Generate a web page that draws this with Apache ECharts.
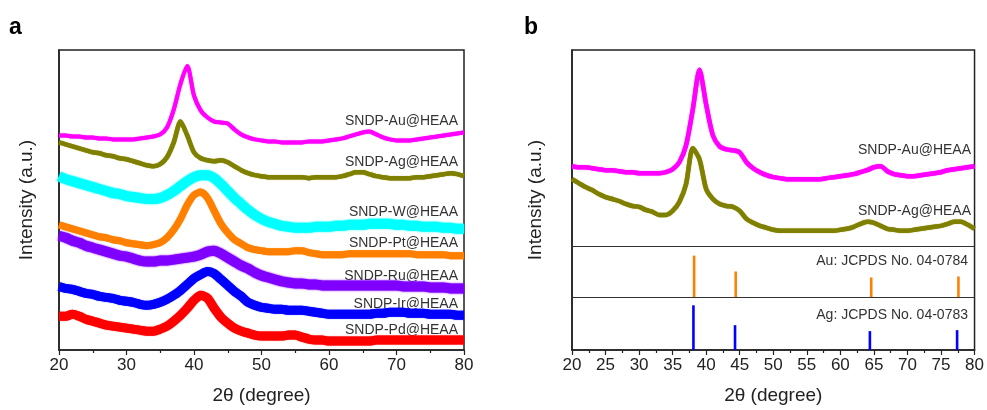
<!DOCTYPE html>
<html>
<head>
<meta charset="utf-8">
<script src="https://cdn.jsdelivr.net/npm/echarts@6/dist/echarts.min.js"></script>
<style>
  html, body { margin: 0; padding: 0; background: #fff; }
  #chart { width: 987px; height: 410px; }
</style>
</head>
<body>
<div id="chart"></div>
<script>
// 2θ sampling grid (degrees)
const twoTheta = [20, 21, 22, 23, 24, 25, 26, 27, 28, 29, 30, 31, 32, 33, 34, 35, 36, 37, 38, 39, 40,
  41, 42, 43, 44, 45, 46, 47, 48, 49, 50, 51, 52, 53, 54, 55, 56, 57, 58, 59, 60,
  61, 62, 63, 64, 65, 66, 67, 68, 69, 70, 71, 72, 73, 74, 75, 76, 77, 78, 79, 80];

// panel a, offset intensities (a.u.)
const auA = [216, 216, 215, 215, 214, 214, 213, 213, 212, 212, 212, 212, 213, 214, 215, 217, 224, 242, 268, 286, 256,
  241, 234, 230, 229, 228, 222, 217, 214, 212, 211, 210, 210, 209, 209, 209, 209, 210, 210, 210, 211,
  212, 213, 215, 217, 219, 220, 217, 214, 212, 211, 211, 211, 212, 213, 214, 215, 216, 217, 218, 219];
const agA = [209, 207, 205, 203, 201, 199, 198, 196, 195, 193, 192, 190, 188, 186, 185, 187, 194, 209, 230, 216, 199,
  193, 191, 190, 191, 189, 185, 181, 178, 176, 175, 174, 174, 174, 174, 174, 174, 173, 174, 174, 174,
  174, 175, 177, 179, 179, 177, 175, 174, 173, 173, 173, 173, 174, 174, 175, 176, 177, 178, 177, 175];
const wA = [175, 172, 170, 168, 166, 164, 162, 160, 158, 157, 155, 154, 153, 152, 152, 153, 156, 160, 165, 170, 174,
  176, 176, 173, 167, 160, 153, 147, 141, 136, 132, 129, 127, 125, 124, 123, 123, 123, 124, 124, 124,
  125, 125, 126, 126, 126, 127, 127, 127, 127, 126, 126, 125, 125, 124, 124, 124, 123, 123, 122, 122];
const ptA = [126, 124, 122, 120, 118, 116, 114, 113, 111, 110, 108, 107, 106, 105, 106, 108, 113, 121, 132, 146, 156,
  159, 153, 140, 127, 118, 111, 107, 103, 101, 100, 99, 99, 99, 99, 100, 100, 98, 97, 96, 96,
  96, 96, 97, 97, 97, 97, 97, 97, 97, 97, 97, 97, 96, 96, 96, 96, 96, 95, 95, 95];
const ruA = [115, 113, 110, 108, 105, 103, 101, 99, 97, 95, 94, 92, 90, 89, 89, 90, 90, 91, 92, 93, 94,
  96, 99, 100, 97, 93, 89, 85, 82, 78, 75, 73, 71, 69, 68, 67, 67, 66, 66, 65, 65,
  65, 65, 65, 65, 65, 65, 65, 65, 65, 65, 64, 64, 64, 64, 63, 63, 63, 62, 62, 62];
const irA = [64, 62, 61, 59, 57, 56, 54, 53, 52, 50, 49, 48, 46, 45, 46, 48, 51, 55, 60, 66, 72,
  76, 79, 77, 71, 65, 59, 54, 48, 45, 43, 42, 41, 41, 40, 40, 40, 39, 38, 37, 36,
  36, 36, 36, 36, 36, 36, 37, 37, 38, 38, 38, 37, 37, 37, 36, 36, 36, 36, 35, 35];
const pdA = [34, 34, 36, 34, 31, 29, 27, 25, 24, 23, 22, 21, 20, 19, 19, 21, 24, 29, 35, 42, 50,
  55, 52, 42, 33, 27, 22, 19, 17, 15, 14, 14, 14, 14, 15, 15, 13, 11, 10, 10, 9,
  9, 9, 9, 9, 9, 9, 10, 10, 10, 10, 10, 10, 10, 10, 10, 10, 10, 10, 10, 10];

// panel b
const auB = [185, 184, 184, 183, 182, 181, 181, 180, 179, 179, 178, 178, 178, 178, 179, 182, 189, 206, 242, 282, 247,
  216, 205, 202, 201, 199, 189, 183, 179, 176, 174, 173, 172, 172, 172, 172, 172, 172, 173, 174, 175,
  176, 177, 179, 181, 184, 185, 180, 177, 176, 175, 175, 176, 177, 178, 179, 181, 182, 183, 184, 185];
const agB = [172, 168, 164, 161, 157, 154, 152, 150, 147, 145, 144, 141, 139, 136, 136, 140, 149, 167, 203, 192, 162,
  152, 147, 145, 144, 140, 132, 128, 125, 123, 121, 120, 120, 120, 120, 120, 120, 120, 120, 120, 121,
  122, 124, 127, 129, 128, 125, 122, 121, 120, 120, 121, 122, 123, 124, 125, 127, 129, 129, 126, 122];

// reference patterns: position, stick top, stick base
const auRefPos = [38.2, 44.4, 64.6, 77.6];
const auRefTop = [95, 79, 73, 74];
const auRefBase = 53;
const agRefPos = [38.1, 44.3, 64.4, 77.4];
const agRefTop = [45, 25, 19, 20];
const agRefBase = 0;
const dividers = [104, 53];

const namesA = ['SNDP-Au@HEAA', 'SNDP-Ag@HEAA', 'SNDP-W@HEAA', 'SNDP-Pt@HEAA', 'SNDP-Ru@HEAA', 'SNDP-Ir@HEAA', 'SNDP-Pd@HEAA'];
const namesB = ['SNDP-Au@HEAA', 'SNDP-Ag@HEAA', 'Au: JCPDS No. 04-0784', 'Ag: JCPDS No. 04-0783'];

const FONT = 'Arial, "Liberation Sans", sans-serif';
const pair = arr => twoTheta.map((t, i) => [t, arr[i]]);

function curve(name, data, color, width, blur, idx) {
  return {
    name: name,
    type: 'line',
    xAxisIndex: idx,
    yAxisIndex: idx,
    data: pair(data),
    showSymbol: false,
    symbol: 'none',
    smooth: 0.25,
    lineStyle: { color: color, width: width, shadowColor: color, shadowBlur: blur }
  };
}

function sticks(pos, top, base, color) {
  return {
    type: 'custom',
    xAxisIndex: 1,
    yAxisIndex: 1,
    data: pos.map((p, i) => [p, base, top[i]]),
    encode: { x: 0, y: [1, 2] },
    renderItem: function (params, api) {
      const p0 = api.coord([api.value(0), api.value(1)]);
      const p1 = api.coord([api.value(0), api.value(2)]);
      return {
        type: 'rect',
        shape: { x: p0[0] - 1.3, y: p1[1], width: 2.6, height: p0[1] - p1[1] },
        style: { fill: color }
      };
    }
  };
}

function xAx(idx, interval) {
  return {
    type: 'value', gridIndex: idx, min: 20, max: 80, interval: interval,
    name: '2θ (degree)', nameLocation: 'middle', nameGap: 36,
    nameTextStyle: { fontFamily: FONT, fontSize: 19, color: '#222' },
    axisLine: { show: true, lineStyle: { color: '#222', width: 1.5 } },
    axisTick: { show: true, inside: false, length: 5, lineStyle: { color: '#222', width: 1.2 } },
    minorTick: { show: true, splitNumber: 2, length: 3, lineStyle: { color: '#222', width: 1.2 } },
    axisLabel: { fontFamily: FONT, fontSize: 17, color: '#222', margin: 7 },
    splitLine: { show: false }
  };
}

function yAx(idx, gap) {
  return {
    type: 'value', gridIndex: idx, min: 0, max: 302,
    name: 'Intensity (a.u.)', nameLocation: 'middle', nameGap: gap, nameRotate: 90,
    nameTextStyle: { fontFamily: FONT, fontSize: 19, color: '#222' },
    axisLine: { show: true, lineStyle: { color: '#222', width: 1.5 } },
    axisTick: { show: false }, axisLabel: { show: false }, splitLine: { show: false }
  };
}

const labelsA = [121, 162, 212, 243, 276, 304, 330];
const labelsB = [150, 211, 261, 315];
const graphics = [
  { type: 'text', left: 9, top: 16, style: { text: 'a', font: 'bold 23px ' + FONT, fill: '#000' } },
  { type: 'text', left: 524, top: 16, style: { text: 'b', font: 'bold 23px ' + FONT, fill: '#000' } }
];
namesA.forEach((n, i) => graphics.push({
  type: 'text', x: 458, y: labelsA[i],
  style: { text: n, font: '14px ' + FONT, fill: '#333', align: 'right', verticalAlign: 'middle' }
}));
namesB.forEach((n, i) => graphics.push({
  type: 'text', x: i < 2 ? 971 : 968, y: labelsB[i],
  style: { text: n, font: '14px ' + FONT, fill: '#333', align: 'right', verticalAlign: 'middle' }
}));

const myChart = echarts.init(document.getElementById('chart'));
const options = {
  animation: false,
  backgroundColor: '#fff',
  grid: [
    { left: 59, top: 50, width: 405, height: 302, show: true, borderColor: '#222', borderWidth: 1.5 },
    { left: 572, top: 50, width: 405, height: 302, show: true, borderColor: '#222', borderWidth: 1.5 }
  ],
  xAxis: [xAx(0, 10), xAx(1, 5)],
  yAxis: [yAx(0, 23), yAx(1, 27)],
  graphic: graphics,
  series: [
    curve('SNDP-Au@HEAA', auA, '#ff00ff', 4, 1, 0),
    curve('SNDP-Ag@HEAA', agA, '#808000', 4.5, 1, 0),
    curve('SNDP-W@HEAA', wA, '#00ffff', 10, 2, 0),
    curve('SNDP-Pt@HEAA', ptA, '#ff8000', 7, 1, 0),
    curve('SNDP-Ru@HEAA', ruA, '#8000ff', 10, 2, 0),
    curve('SNDP-Ir@HEAA', irA, '#0000ff', 9, 1, 0),
    curve('SNDP-Pd@HEAA', pdA, '#ff0000', 9, 1, 0),
    Object.assign(curve('SNDP-Au@HEAA', auB, '#ff00ff', 4.5, 1, 1), {
      markLine: {
        silent: true, symbol: 'none', label: { show: false },
        lineStyle: { color: '#333', width: 1, type: 'solid' },
        data: dividers.map(v => ({ yAxis: v }))
      }
    }),
    curve('SNDP-Ag@HEAA', agB, '#808000', 4.5, 1, 1),
    sticks(auRefPos, auRefTop, auRefBase, '#ff8000'),
    sticks(agRefPos, agRefTop, agRefBase, '#0000ff')
  ]
};
myChart.setOption(options);
</script>
</body>
</html>
